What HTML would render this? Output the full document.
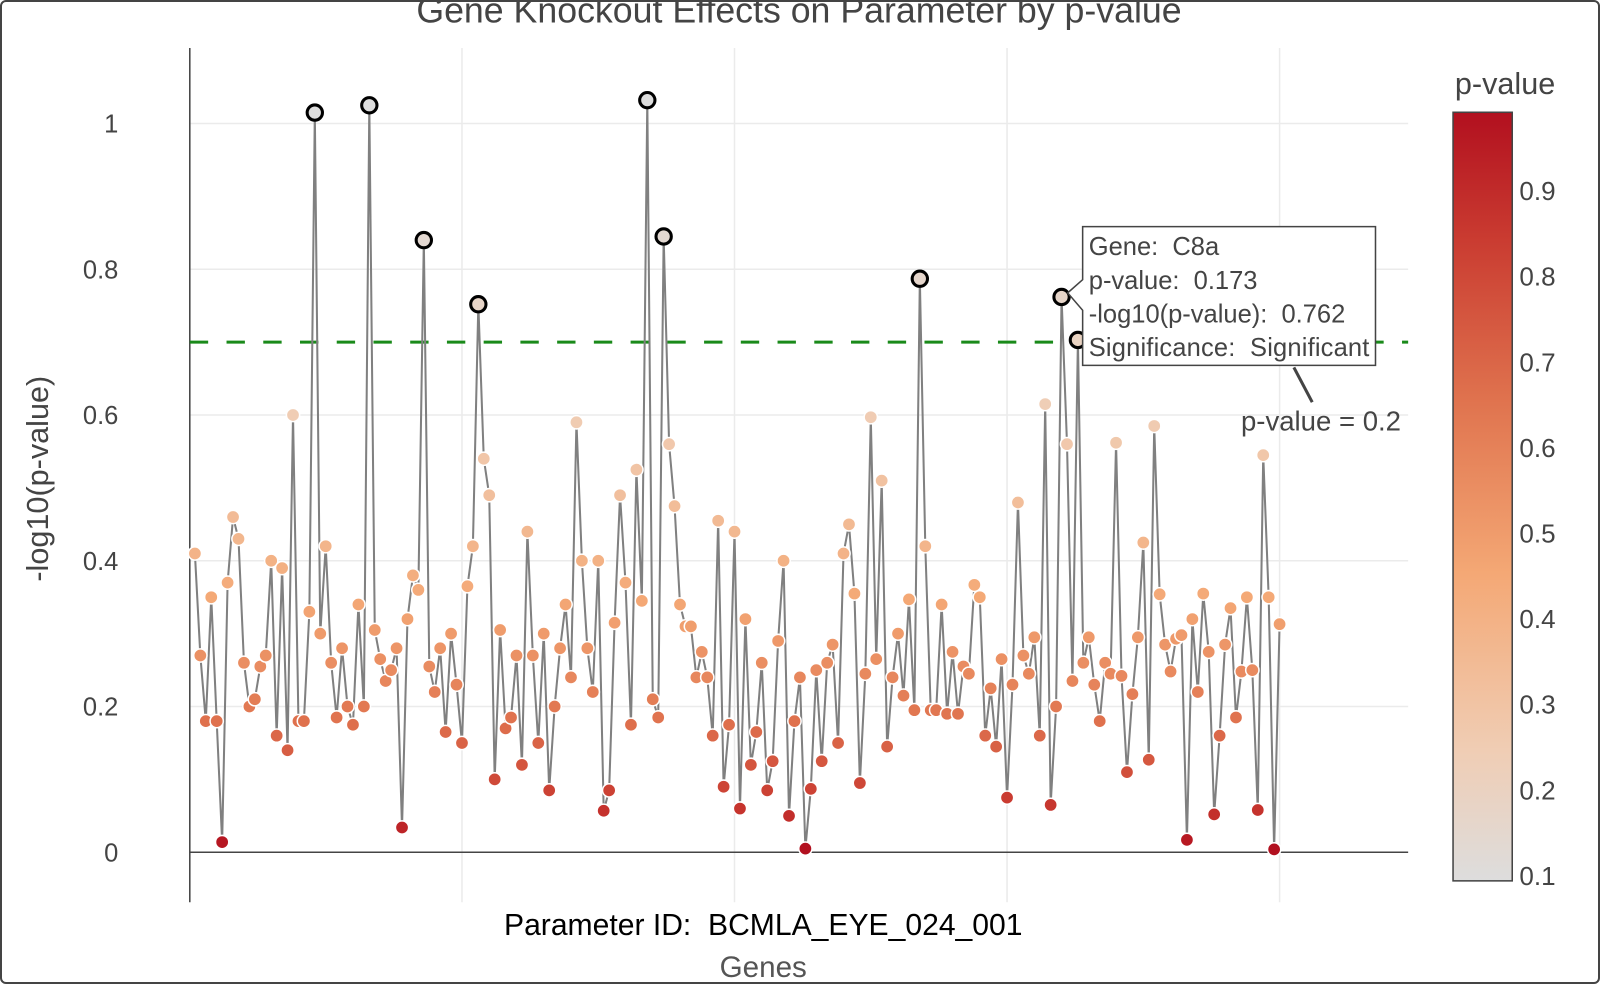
<!DOCTYPE html>
<html><head><meta charset="utf-8">
<style>
html,body{margin:0;padding:0;background:#fff;}
body{width:1600px;height:984px;overflow:hidden;font-family:"Liberation Sans",sans-serif;}
#frame{position:absolute;left:0;top:0;width:1596px;height:980px;border:2px solid #444;border-radius:6px;}
text{white-space:pre;}
</style></head>
<body>
<div id="frame"></div>
<svg id="chart" width="1600" height="984" style="position:absolute;left:0;top:0">
<defs>
<linearGradient id="cbgrad" x1="0" y1="1" x2="0" y2="0">
<stop offset="0" stop-color="#dddddd"/>
<stop offset="0.17" stop-color="#f0cdb4"/>
<stop offset="0.4" stop-color="#f4a875"/>
<stop offset="0.62" stop-color="#e0744f"/>
<stop offset="0.84" stop-color="#c93a30"/>
<stop offset="1" stop-color="#b2101f"/>
</linearGradient>
</defs>
<g id="root" transform="scale(1.0204,1.0207)"></g>
</svg>
<script>
const values=[0.41,0.27,0.18,0.35,0.18,0.014,0.37,0.46,0.43,0.26,0.20,0.21,0.255,0.27,0.40,0.16,0.39,0.14,0.60,0.18,0.18,0.33,1.015,0.30,0.42,0.26,0.185,0.28,0.20,0.175,0.34,0.20,1.025,0.305,0.265,0.235,0.25,0.28,0.034,0.32,0.38,0.36,0.84,0.255,0.22,0.28,0.165,0.30,0.23,0.15,0.365,0.42,0.752,0.54,0.49,0.10,0.305,0.17,0.185,0.27,0.12,0.44,0.27,0.15,0.30,0.085,0.20,0.28,0.34,0.24,0.59,0.40,0.28,0.22,0.40,0.057,0.085,0.315,0.49,0.37,0.175,0.525,0.345,1.032,0.21,0.185,0.845,0.56,0.475,0.34,0.31,0.31,0.24,0.275,0.24,0.16,0.455,0.09,0.175,0.44,0.06,0.32,0.12,0.165,0.26,0.085,0.125,0.29,0.40,0.05,0.18,0.24,0.005,0.087,0.25,0.125,0.26,0.285,0.15,0.41,0.45,0.355,0.095,0.245,0.597,0.265,0.51,0.145,0.24,0.30,0.215,0.347,0.195,0.787,0.42,0.195,0.195,0.34,0.19,0.275,0.19,0.255,0.245,0.367,0.35,0.16,0.225,0.145,0.265,0.075,0.23,0.48,0.27,0.245,0.295,0.16,0.615,0.065,0.20,0.762,0.56,0.235,0.703,0.26,0.295,0.23,0.18,0.26,0.245,0.562,0.242,0.11,0.217,0.295,0.425,0.127,0.585,0.354,0.285,0.248,0.293,0.298,0.017,0.32,0.22,0.355,0.275,0.052,0.16,0.285,0.335,0.185,0.248,0.35,0.25,0.058,0.545,0.35,0.004,0.313];
const yTicks=[0,0.2,0.4,0.6,0.8,1];
const cbTicks=[0.1,0.2,0.3,0.4,0.5,0.6,0.7,0.8,0.9];
const threshold=0.7;
const hoverValue=0.762;
const hoverGene="C8a";

const NS="http://www.w3.org/2000/svg";
const svg=document.getElementById('root');
function el(t,a,p){const e=document.createElementNS(NS,t);for(const k in a)e.setAttribute(k,a[k]);(p||svg).appendChild(e);return e;}
const X0=191,DX=(1254-191)/(values.length-1);
const xs=i=>X0+i*DX;
const ys=v=>835-v*714;
const cbY=p=>858-(p-0.1)*(858-187)/0.8;
const stops=[[0.1,[221,221,221]],[0.25,[240,205,180]],[0.45,[244,168,117]],[0.65,[224,116,79]],[0.85,[201,58,48]],[0.99,[178,16,31]]];
function col(p){p=Math.max(0.1,Math.min(0.99,p));for(let i=0;i<stops.length-1;i++){const[a,ca]=stops[i],[b,cb]=stops[i+1];if(p<=b){const t=(p-a)/(b-a);return 'rgb('+ca.map((c,j)=>Math.round(c+(cb[j]-c)*t)).join(',')+')';}}return 'rgb(178,16,31)';}

yTicks.forEach(v=>{
  if(v>0){const g=el('line',{x1:186,x2:1380,y1:ys(v),y2:ys(v),stroke:'#ebebeb','stroke-width':1.5});
  
  }
  const t=el('text',{x:116,y:ys(v)+9,'text-anchor':'end','font-size':25,fill:'#444'});
  t.textContent=String(v);
  
  
});
[49,99,149,199].forEach(i=>{
  const g=el('line',{x1:xs(i),x2:xs(i),y1:47,y2:884,stroke:'#ebebeb','stroke-width':1.5});
  
  
});
const za=el('line',{x1:186,x2:1380,y1:ys(0),y2:ys(0),stroke:'#444','stroke-width':1.5});


const ya=el('line',{x1:186,x2:186,y1:47,y2:884,stroke:'#444','stroke-width':1.5});



const th=el('line',{x1:186,x2:1380,y1:ys(threshold),y2:ys(threshold),stroke:'#1a8a1a','stroke-width':3,'stroke-dasharray':'18,18'});



const pl=el('polyline',{points:values.map((v,i)=>xs(i)+','+ys(v)).join(' '),fill:'none',stroke:'#808080','stroke-width':2});



values.forEach((v,i)=>{
  const p=Math.pow(10,-v);
  const sig=v>=threshold;
  const c=el('circle',{cx:xs(i),cy:ys(v),r:sig?7.5:6.5,fill:col(p),stroke:sig?'#000':'#fff','stroke-width':sig?3:1.5});
  
  
});

const ar=el('line',{x1:1268,y1:360,x2:1286,y2:394,stroke:'#444','stroke-width':3});


const an=el('text',{x:1373,y:422,'text-anchor':'end','font-size':27,fill:'#444'});
an.textContent='p-value = 0.2';



let hoverIndex=values.indexOf(hoverValue);
const hx=xs(hoverIndex),hy=ys(values[hoverIndex]);
const tp=el('path',{d:`M${hx+6},${hy-4} L1061,274 L1061,222 L1348,222 L1348,358 L1061,358 L1061,304 Z`,fill:'#fff',stroke:'#444','stroke-width':1.5});


const hp=Math.pow(10,-values[hoverIndex]);
['Gene:  '+hoverGene,'p-value:  '+hp.toFixed(3),'-log10(p-value):  '+values[hoverIndex].toFixed(3),'Significance:  Significant'].forEach((s,k)=>{
  const t=el('text',{x:1067,y:250+k*33,'font-size':25,fill:'#444',textLength:k==3?275:null});
  if(k!=3)t.removeAttribute('textLength');
  t.textContent=s;
  
  
});

const cb=el('rect',{x:1424,y:110,width:58,height:753,fill:'url(#cbgrad)',stroke:'#444','stroke-width':1.5});


cbTicks.forEach(p=>{
  const t=el('text',{x:1489,y:cbY(p)+9,'font-size':25.5,fill:'#444'});
  t.textContent=p.toFixed(1);
  
  
});
const cbt=el('text',{x:1475,y:92,'text-anchor':'middle','font-size':30,fill:'#444'});
cbt.textContent='p-value';



const tt=el('text',{x:783,y:22,'text-anchor':'middle','font-size':35,fill:'#444'});
tt.textContent='Gene Knockout Effects on Parameter by p-value';


const yt=el('text',{x:0,y:0,'text-anchor':'middle','font-size':30,fill:'#444',transform:'translate(47,469) rotate(-90)'});
yt.textContent='-log10(p-value)';


const pid=el('text',{x:748,y:916,'text-anchor':'middle','font-size':29.5,fill:'#000'});
pid.textContent='Parameter ID:  BCMLA_EYE_024_001';


const xt=el('text',{x:748,y:957,'text-anchor':'middle','font-size':29,fill:'#555'});
xt.textContent='Genes';


</script>
</body></html>
